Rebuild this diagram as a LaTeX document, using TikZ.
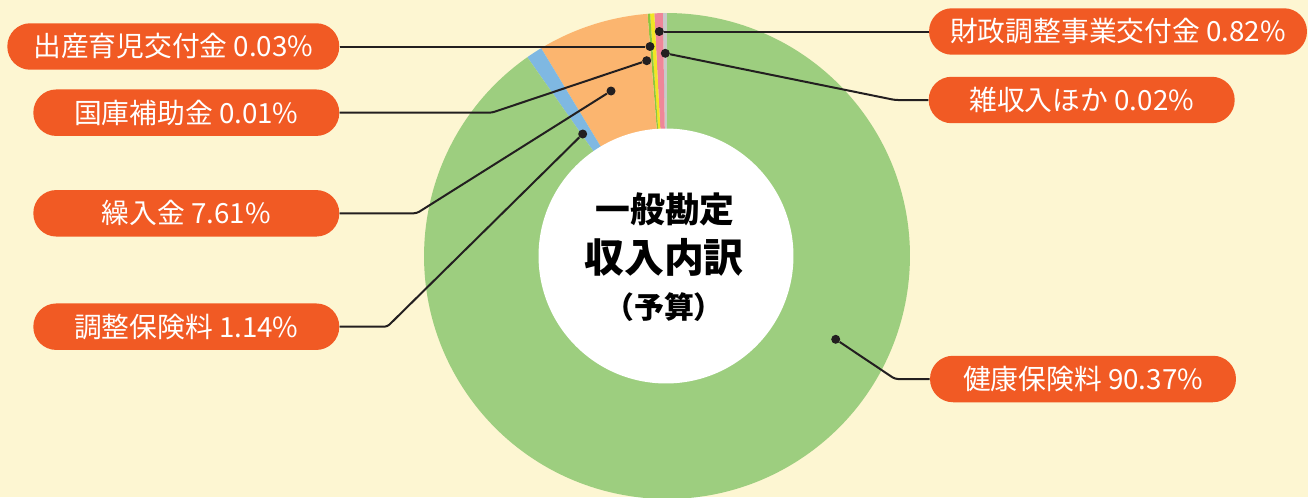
\documentclass[tikz,border=0pt]{standalone}
\usepackage{fontspec}
\setmainfont{Noto Sans CJK JP}
\definecolor{bgcream}{HTML}{FDF6D2}
\definecolor{sgreen}{HTML}{9DCE7F}
\definecolor{sgreenlite}{HTML}{8CC63F}
\definecolor{syellow}{HTML}{F2E625}
\definecolor{spink}{HTML}{EF8699}
\definecolor{sgray}{HTML}{C9C9C9}
\definecolor{sorange}{HTML}{FBB56F}
\definecolor{sblue}{HTML}{7FB8E2}
\definecolor{pillorange}{HTML}{F15A24}
\definecolor{leadgray}{HTML}{231F20}

\begin{document}
\begin{tikzpicture}[x=0.02cm,y=0.02cm,
  pill/.style={fill=pillorange,text=white,rounded corners=0.46cm,minimum height=0.93cm,inner sep=0pt,font=\fontsize{15.8}{18}\selectfont},
  leader/.style={draw=leadgray,line width=0.04cm,rounded corners=0.06cm},
  pin/.style={circle,fill=leadgray,inner sep=0pt,minimum size=0.18cm}]
\fill[bgcream] (0,0) rectangle (1308,-497);
\useasboundingbox (0,0) rectangle (1308,-497);
\clip (0,0) rectangle (1308,-497);
% donut
\foreach \a/\b/\c in {90/91/sgray, 91/93/spink, 93/94/syellow, 94/94.6/sgreenlite, 94.6/121.2/sorange, 121.2/125.1/sblue, 125.1/450/sgreen}
  \fill[\c] (667,-256) -- ++(\a:4.86cm) arc[start angle=\a, end angle=\b, radius=4.86cm] -- cycle;
\fill[white] (666,-256) circle[radius=2.55cm];
\node[font=\bfseries\fontsize{19.8}{22}\selectfont] (ttlA) at (665,-209) {一般勘定};
\node[font=\bfseries\fontsize{22.7}{26}\selectfont] (ttlB) at (664,-257.5) {収入内訳};
\node[font=\bfseries\fontsize{17}{20}\selectfont] (ttlC) at (664,-307) {（予算）};
% dots
\node[pin] (dZaisei) at (659.3,-31.5) {};
\node[pin] (dShussan) at (650,-46.5) {};
\node[pin] (dZatsu) at (665.3,-53.3) {};
\node[pin] (dKokko) at (646.7,-60.7) {};
\node[pin] (dKuriire) at (611,-91) {};
\node[pin] (dChosei) at (582.7,-134) {};
\node[pin] (dKenko) at (835.7,-339.3) {};
% labels
\node[pill,minimum width=7.56cm] (lZaisei) at (1118,-31.5) {財政調整事業交付金 0.82\%};
\node[pill,minimum width=6.12cm] (lZatsu) at (1081.7,-100) {雑収入ほか 0.02\%};
\node[pill,minimum width=6.12cm] (lKenko) at (1083,-379) {健康保険料 90.37\%};
\node[pill,minimum width=6.64cm] (lShussan) at (173.3,-46.5) {出産育児交付金 0.03\%};
\node[pill,minimum width=6.12cm] (lKokko) at (186.3,-112.7) {国庫補助金 0.01\%};
\node[pill,minimum width=6.12cm] (lKuriire) at (186.3,-213.3) {繰入金 7.61\%};
\node[pill,minimum width=6.12cm] (lChosei) at (186.3,-326.7) {調整保険料 1.14\%};
% leaders
\coordinate (bZatsu) at (895,-100);
\coordinate (bKenko) at (895,-379);
\coordinate (bKokko) at (491.7,-112.7);
\coordinate (bKuriire) at (416.7,-213.3);
\coordinate (bChosei) at (387.3,-326.7);
\draw[leader] (dZaisei) -- (lZaisei.west);
\draw[leader] (dShussan) -- (lShussan.east);
\draw[leader] (dZatsu) -- (bZatsu) -- (lZatsu.west);
\draw[leader] (dKenko) -- (bKenko) -- (lKenko.west);
\draw[leader] (dKokko) -- (bKokko) -- (lKokko.east);
\draw[leader] (dKuriire) -- (bKuriire) -- (lKuriire.east);
\draw[leader] (dChosei) -- (bChosei) -- (lChosei.east);
\end{tikzpicture}
\end{document}
